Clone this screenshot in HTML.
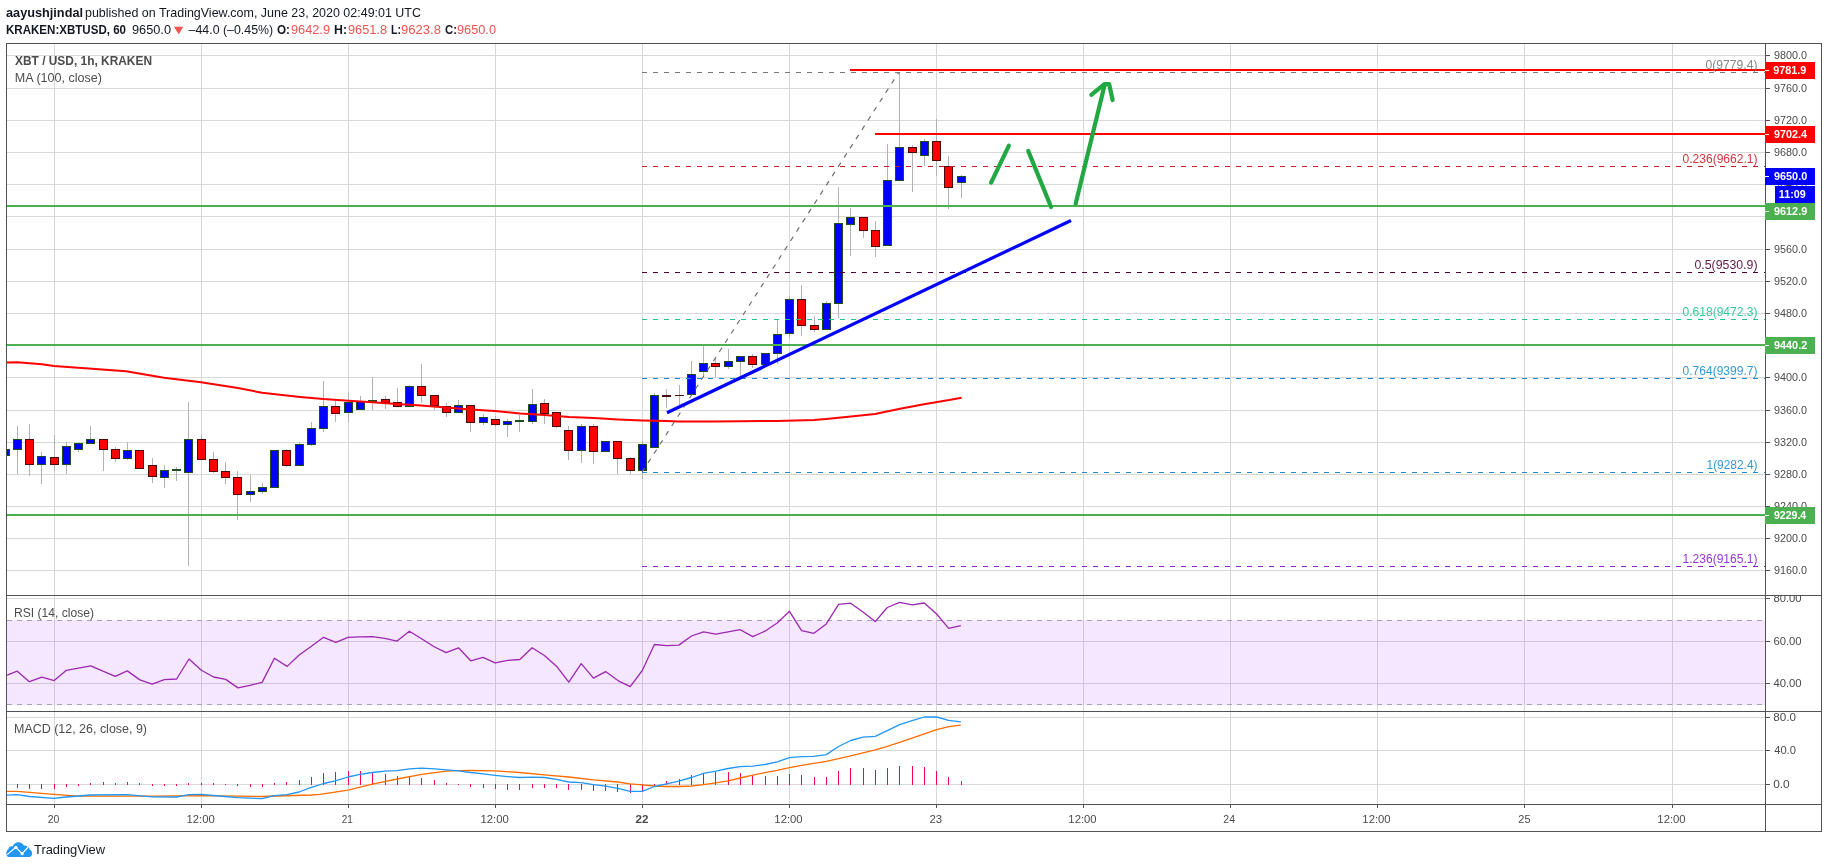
<!DOCTYPE html><html><head><meta charset="utf-8"><title>XBTUSD</title><style>html,body{margin:0;padding:0;background:#fff;overflow:hidden}svg{display:block;will-change:transform}text{font-family:"Liberation Sans",sans-serif}</style></head><body>
<svg width="1828" height="868" viewBox="0 0 1828 868">
<defs><clipPath id="cm"><rect x="7" y="44" width="1758" height="551"/></clipPath><clipPath id="cr"><rect x="7" y="596" width="1758" height="115"/></clipPath><clipPath id="cd"><rect x="7" y="712" width="1758" height="92"/></clipPath><clipPath id="cra"><rect x="1766" y="596" width="55" height="115"/></clipPath></defs>
<rect width="1828" height="868" fill="#fff"/>
<path d="M7 55.5H1765M7 88.5H1765M7 120.5H1765M7 152.5H1765M7 184.5H1765M7 216.5H1765M7 249.5H1765M7 281.5H1765M7 313.5H1765M7 345.5H1765M7 377.5H1765M7 410.5H1765M7 442.5H1765M7 474.5H1765M7 506.5H1765M7 538.5H1765M7 570.5H1765M54.5 44V595M54.5 596V711M54.5 712V804M201.5 44V595M201.5 596V711M201.5 712V804M348.5 44V595M348.5 596V711M348.5 712V804M495.5 44V595M495.5 596V711M495.5 712V804M642.5 44V595M642.5 596V711M642.5 712V804M789.5 44V595M789.5 596V711M789.5 712V804M936.5 44V595M936.5 596V711M936.5 712V804M1083.5 44V595M1083.5 596V711M1083.5 712V804M1230.5 44V595M1230.5 596V711M1230.5 712V804M1377.5 44V595M1377.5 596V711M1377.5 712V804M1524.5 44V595M1524.5 596V711M1524.5 712V804M1672.5 44V595M1672.5 596V711M1672.5 712V804M7 598.5H1765M7 641.5H1765M7 683.5H1765M7 717.5H1765M7 750.5H1765M7 784.5H1765" stroke="#d8d8d8" stroke-width="1" fill="none" shape-rendering="crispEdges"/>
<rect x="7" y="620" width="1758" height="85" fill="rgb(153,21,255)" fill-opacity="0.1" shape-rendering="crispEdges"/>
<path d="M7 620.5H1765M7 704.5H1765" stroke="#a9a0b4" stroke-width="1" stroke-dasharray="5 5" fill="none" shape-rendering="crispEdges"/>
<g clip-path="url(#cm)" shape-rendering="crispEdges">
<path d="M5.5 446V462M17.5 426V474M29.5 424V476M41.5 452V484M54.5 435V471M66.5 442V474M78.5 442V452M90.5 426V444M103.5 439V471M115.5 447V462M127.5 442V460M139.5 450V468M152.5 458V483M164.5 465V488M176.5 467V481M188.5 402V566M201.5 434V460M213.5 452V473M225.5 462V484M237.5 471V520M250.5 475V502M262.5 483V494M274.5 450V487M286.5 449V467M299.5 442V466M311.5 422V446M323.5 381V432M335.5 401V422M348.5 392V422M360.5 396V410M372.5 377V410M385.5 396V409M397.5 388V407M409.5 385V406M421.5 364V403M434.5 395V410M446.5 403V417M458.5 400V413M470.5 405V432M483.5 414V425M495.5 416V427M507.5 419V437M519.5 415V432M532.5 389V424M544.5 399V424M556.5 412V428M568.5 426V460M581.5 424V463M593.5 424V464M605.5 441V452M617.5 441V474M630.5 457V474M642.5 441V479M654.5 393V447M666.5 389V408M679.5 385V405M691.5 361V394M703.5 346V377M715.5 358V377M728.5 349V369M740.5 356V376M752.5 354V368M765.5 353V364M777.5 320V364M789.5 296V338M801.5 285V336M814.5 316V332M826.5 301V330M838.5 187V318M850.5 208V256M863.5 217V238M875.5 221V257M887.5 144V246M899.5 72V181M912.5 145V192M924.5 139V166M936.5 119V176M948.5 156V209M961.5 175V198" stroke="#b2b2b2" stroke-width="1" fill="none"/>
<rect x="1" y="449" width="9" height="7" fill="#1e4d1e"/><rect x="2" y="450" width="7" height="5" fill="#0000ff"/><rect x="13" y="439" width="9" height="11" fill="#1e4d1e"/><rect x="14" y="440" width="7" height="9" fill="#0000ff"/><rect x="25" y="439" width="9" height="26" fill="#4d0a0a"/><rect x="26" y="440" width="7" height="24" fill="#ff0000"/><rect x="37" y="456" width="9" height="9" fill="#1e4d1e"/><rect x="38" y="457" width="7" height="7" fill="#0000ff"/><rect x="50" y="457" width="9" height="8" fill="#4d0a0a"/><rect x="51" y="458" width="7" height="6" fill="#ff0000"/><rect x="62" y="446" width="9" height="19" fill="#1e4d1e"/><rect x="63" y="447" width="7" height="17" fill="#0000ff"/><rect x="74" y="443" width="9" height="7" fill="#1e4d1e"/><rect x="75" y="444" width="7" height="5" fill="#0000ff"/><rect x="86" y="439" width="9" height="5" fill="#1e4d1e"/><rect x="87" y="440" width="7" height="3" fill="#0000ff"/><rect x="99" y="439" width="9" height="11" fill="#4d0a0a"/><rect x="100" y="440" width="7" height="9" fill="#ff0000"/><rect x="111" y="449" width="9" height="10" fill="#4d0a0a"/><rect x="112" y="450" width="7" height="8" fill="#ff0000"/><rect x="123" y="450" width="9" height="9" fill="#1e4d1e"/><rect x="124" y="451" width="7" height="7" fill="#0000ff"/><rect x="135" y="450" width="9" height="19" fill="#4d0a0a"/><rect x="136" y="451" width="7" height="17" fill="#ff0000"/><rect x="148" y="465" width="9" height="12" fill="#4d0a0a"/><rect x="149" y="466" width="7" height="10" fill="#ff0000"/><rect x="160" y="470" width="9" height="8" fill="#1e4d1e"/><rect x="161" y="471" width="7" height="6" fill="#0000ff"/><rect x="172" y="469" width="9" height="2" fill="#1e4d1e"/><rect x="184" y="439" width="9" height="34" fill="#1e4d1e"/><rect x="185" y="440" width="7" height="32" fill="#0000ff"/><rect x="197" y="439" width="9" height="21" fill="#4d0a0a"/><rect x="198" y="440" width="7" height="19" fill="#ff0000"/><rect x="209" y="459" width="9" height="13" fill="#4d0a0a"/><rect x="210" y="460" width="7" height="11" fill="#ff0000"/><rect x="221" y="471" width="9" height="7" fill="#4d0a0a"/><rect x="222" y="472" width="7" height="5" fill="#ff0000"/><rect x="233" y="477" width="9" height="18" fill="#4d0a0a"/><rect x="234" y="478" width="7" height="16" fill="#ff0000"/><rect x="246" y="491" width="9" height="4" fill="#1e4d1e"/><rect x="247" y="492" width="7" height="2" fill="#0000ff"/><rect x="258" y="487" width="9" height="5" fill="#1e4d1e"/><rect x="259" y="488" width="7" height="3" fill="#0000ff"/><rect x="270" y="450" width="9" height="38" fill="#1e4d1e"/><rect x="271" y="451" width="7" height="36" fill="#0000ff"/><rect x="282" y="450" width="9" height="16" fill="#4d0a0a"/><rect x="283" y="451" width="7" height="14" fill="#ff0000"/><rect x="295" y="444" width="9" height="22" fill="#1e4d1e"/><rect x="296" y="445" width="7" height="20" fill="#0000ff"/><rect x="307" y="428" width="9" height="17" fill="#1e4d1e"/><rect x="308" y="429" width="7" height="15" fill="#0000ff"/><rect x="319" y="406" width="9" height="23" fill="#1e4d1e"/><rect x="320" y="407" width="7" height="21" fill="#0000ff"/><rect x="331" y="406" width="9" height="8" fill="#4d0a0a"/><rect x="332" y="407" width="7" height="6" fill="#ff0000"/><rect x="344" y="402" width="9" height="11" fill="#1e4d1e"/><rect x="345" y="403" width="7" height="9" fill="#0000ff"/><rect x="356" y="401" width="9" height="9" fill="#1e4d1e"/><rect x="357" y="402" width="7" height="7" fill="#0000ff"/><rect x="368" y="400" width="9" height="2" fill="#1e4d1e"/><rect x="381" y="399" width="9" height="4" fill="#4d0a0a"/><rect x="382" y="400" width="7" height="2" fill="#ff0000"/><rect x="393" y="402" width="9" height="5" fill="#4d0a0a"/><rect x="394" y="403" width="7" height="3" fill="#ff0000"/><rect x="405" y="386" width="9" height="21" fill="#1e4d1e"/><rect x="406" y="387" width="7" height="19" fill="#0000ff"/><rect x="417" y="386" width="9" height="10" fill="#4d0a0a"/><rect x="418" y="387" width="7" height="8" fill="#ff0000"/><rect x="430" y="395" width="9" height="11" fill="#4d0a0a"/><rect x="431" y="396" width="7" height="9" fill="#ff0000"/><rect x="442" y="406" width="9" height="7" fill="#4d0a0a"/><rect x="443" y="407" width="7" height="5" fill="#ff0000"/><rect x="454" y="405" width="9" height="8" fill="#1e4d1e"/><rect x="455" y="406" width="7" height="6" fill="#0000ff"/><rect x="466" y="405" width="9" height="18" fill="#4d0a0a"/><rect x="467" y="406" width="7" height="16" fill="#ff0000"/><rect x="479" y="417" width="9" height="6" fill="#1e4d1e"/><rect x="480" y="418" width="7" height="4" fill="#0000ff"/><rect x="491" y="419" width="9" height="6" fill="#4d0a0a"/><rect x="492" y="420" width="7" height="4" fill="#ff0000"/><rect x="503" y="421" width="9" height="4" fill="#1e4d1e"/><rect x="504" y="422" width="7" height="2" fill="#0000ff"/><rect x="515" y="420" width="9" height="2" fill="#1e4d1e"/><rect x="528" y="404" width="9" height="18" fill="#1e4d1e"/><rect x="529" y="405" width="7" height="16" fill="#0000ff"/><rect x="540" y="403" width="9" height="11" fill="#4d0a0a"/><rect x="541" y="404" width="7" height="9" fill="#ff0000"/><rect x="552" y="412" width="9" height="15" fill="#4d0a0a"/><rect x="553" y="413" width="7" height="13" fill="#ff0000"/><rect x="564" y="430" width="9" height="21" fill="#4d0a0a"/><rect x="565" y="431" width="7" height="19" fill="#ff0000"/><rect x="577" y="426" width="9" height="25" fill="#1e4d1e"/><rect x="578" y="427" width="7" height="23" fill="#0000ff"/><rect x="589" y="426" width="9" height="26" fill="#4d0a0a"/><rect x="590" y="427" width="7" height="24" fill="#ff0000"/><rect x="601" y="441" width="9" height="11" fill="#1e4d1e"/><rect x="602" y="442" width="7" height="9" fill="#0000ff"/><rect x="613" y="441" width="9" height="18" fill="#4d0a0a"/><rect x="614" y="442" width="7" height="16" fill="#ff0000"/><rect x="626" y="458" width="9" height="13" fill="#4d0a0a"/><rect x="627" y="459" width="7" height="11" fill="#ff0000"/><rect x="638" y="444" width="9" height="27" fill="#1e4d1e"/><rect x="639" y="445" width="7" height="25" fill="#0000ff"/><rect x="650" y="395" width="9" height="53" fill="#1e4d1e"/><rect x="651" y="396" width="7" height="51" fill="#0000ff"/><rect x="662" y="395" width="9" height="2" fill="#4d0a0a"/><rect x="675" y="395" width="9" height="1" fill="#4d0a0a"/><rect x="687" y="374" width="9" height="21" fill="#1e4d1e"/><rect x="688" y="375" width="7" height="19" fill="#0000ff"/><rect x="699" y="363" width="9" height="9" fill="#1e4d1e"/><rect x="700" y="364" width="7" height="7" fill="#0000ff"/><rect x="711" y="363" width="9" height="4" fill="#4d0a0a"/><rect x="712" y="364" width="7" height="2" fill="#ff0000"/><rect x="724" y="361" width="9" height="6" fill="#1e4d1e"/><rect x="725" y="362" width="7" height="4" fill="#0000ff"/><rect x="736" y="356" width="9" height="6" fill="#1e4d1e"/><rect x="737" y="357" width="7" height="4" fill="#0000ff"/><rect x="748" y="356" width="9" height="9" fill="#4d0a0a"/><rect x="749" y="357" width="7" height="7" fill="#ff0000"/><rect x="761" y="353" width="9" height="12" fill="#1e4d1e"/><rect x="762" y="354" width="7" height="10" fill="#0000ff"/><rect x="773" y="334" width="9" height="20" fill="#1e4d1e"/><rect x="774" y="335" width="7" height="18" fill="#0000ff"/><rect x="785" y="299" width="9" height="35" fill="#1e4d1e"/><rect x="786" y="300" width="7" height="33" fill="#0000ff"/><rect x="797" y="299" width="9" height="27" fill="#4d0a0a"/><rect x="798" y="300" width="7" height="25" fill="#ff0000"/><rect x="810" y="325" width="9" height="5" fill="#4d0a0a"/><rect x="811" y="326" width="7" height="3" fill="#ff0000"/><rect x="822" y="303" width="9" height="27" fill="#1e4d1e"/><rect x="823" y="304" width="7" height="25" fill="#0000ff"/><rect x="834" y="223" width="9" height="81" fill="#1e4d1e"/><rect x="835" y="224" width="7" height="79" fill="#0000ff"/><rect x="846" y="217" width="9" height="8" fill="#1e4d1e"/><rect x="847" y="218" width="7" height="6" fill="#0000ff"/><rect x="859" y="217" width="9" height="14" fill="#4d0a0a"/><rect x="860" y="218" width="7" height="12" fill="#ff0000"/><rect x="871" y="230" width="9" height="17" fill="#4d0a0a"/><rect x="872" y="231" width="7" height="15" fill="#ff0000"/><rect x="883" y="180" width="9" height="66" fill="#1e4d1e"/><rect x="884" y="181" width="7" height="64" fill="#0000ff"/><rect x="895" y="147" width="9" height="34" fill="#1e4d1e"/><rect x="896" y="148" width="7" height="32" fill="#0000ff"/><rect x="908" y="147" width="9" height="6" fill="#4d0a0a"/><rect x="909" y="148" width="7" height="4" fill="#ff0000"/><rect x="920" y="141" width="9" height="15" fill="#1e4d1e"/><rect x="921" y="142" width="7" height="13" fill="#0000ff"/><rect x="932" y="141" width="9" height="20" fill="#4d0a0a"/><rect x="933" y="142" width="7" height="18" fill="#ff0000"/><rect x="944" y="166" width="9" height="22" fill="#4d0a0a"/><rect x="945" y="167" width="7" height="20" fill="#ff0000"/><rect x="957" y="176" width="9" height="7" fill="#1e4d1e"/><rect x="958" y="177" width="7" height="5" fill="#0000ff"/>
</g>
<g clip-path="url(#cm)">
<polyline points="6.0,362.5 17.0,362.2 42.0,364.3 54.0,365.9 92.0,368.7 126.0,371.2 164.0,377.7 201.0,382.3 238.0,387.9 262.0,392.8 300.0,396.9 323.6,399.1 348.5,400.7 372.4,402.3 397.0,404.0 421.0,405.6 446.0,407.6 470.6,409.5 495.0,411.1 520.0,413.5 544.7,415.0 569.0,417.0 594.0,418.0 618.0,419.4 642.0,420.4 666.5,420.9 679.0,421.5 715.0,421.5 777.0,420.9 814.0,420.0 826.0,419.1 851.0,416.6 875.0,414.0 900.0,408.8 924.0,404.2 949.0,400.1 961.6,397.7" fill="none" stroke="#ff0000" stroke-width="2" stroke-linejoin="round"/>
<line x1="642" y1="472.3" x2="898.7" y2="72.5" stroke="#6a6a6a" stroke-width="1.15" stroke-dasharray="5 6"/>
<line x1="642" y1="72.5" x2="1765" y2="72.5" stroke="#787878" stroke-width="1" stroke-dasharray="5 6" shape-rendering="crispEdges"/>
<line x1="642" y1="166.5" x2="1765" y2="166.5" stroke="#cc1c24" stroke-width="1" stroke-dasharray="5 6" shape-rendering="crispEdges"/>
<line x1="642" y1="272.5" x2="1765" y2="272.5" stroke="#500032" stroke-width="1" stroke-dasharray="5 6" shape-rendering="crispEdges"/>
<line x1="642" y1="319.5" x2="1765" y2="319.5" stroke="#1ec88c" stroke-width="1" stroke-dasharray="5 6" shape-rendering="crispEdges"/>
<line x1="642" y1="378.5" x2="1765" y2="378.5" stroke="#1e8cd2" stroke-width="1" stroke-dasharray="5 6" shape-rendering="crispEdges"/>
<line x1="642" y1="472.5" x2="1765" y2="472.5" stroke="#1e8cd2" stroke-width="1" stroke-dasharray="5 6" shape-rendering="crispEdges"/>
<line x1="642" y1="566.5" x2="1765" y2="566.5" stroke="#8c1ed2" stroke-width="1" stroke-dasharray="5 6" shape-rendering="crispEdges"/>
<g shape-rendering="crispEdges">
<rect x="7" y="205" width="1758" height="2" fill="#4caf50"/>
<rect x="7" y="344" width="1758" height="2" fill="#4caf50"/>
<rect x="7" y="514" width="1758" height="2" fill="#4caf50"/>
<rect x="850" y="69" width="915" height="2" fill="#ff0000"/>
<rect x="875" y="133" width="890" height="2" fill="#ff0000"/>
</g>
<line x1="667" y1="412.8" x2="1071" y2="220.5" stroke="#0000ff" stroke-width="3.2" stroke-linecap="butt"/>
<line x1="991.1" y1="182.6" x2="1008.9" y2="145.6" stroke="#22a843" stroke-width="4.2" stroke-linecap="round" stroke-linejoin="round" fill="none"/>
<line x1="1028.2" y1="150.9" x2="1051.1" y2="207" stroke="#22a843" stroke-width="4.2" stroke-linecap="round" stroke-linejoin="round" fill="none"/>
<polyline points="1075.7,203.4 1104.8,84.2" stroke="#22a843" stroke-width="4.2" stroke-linecap="round" stroke-linejoin="round" fill="none"/>
<polyline points="1091.3,94.8 1104.4,84.2 1109.2,84.2 1112.6,100" stroke="#22a843" stroke-width="4.2" stroke-linecap="round" stroke-linejoin="round" fill="none"/>
<text x="1757.5" y="68.7" font-size="12.00" fill="#787878" text-anchor="end" textLength="52.0" lengthAdjust="spacingAndGlyphs" fill-opacity="0.9">0(9779.4)</text>
<text x="1757.5" y="163.1" font-size="12.00" fill="#cc1c24" text-anchor="end" textLength="75.0" lengthAdjust="spacingAndGlyphs" fill-opacity="0.9">0.236(9662.1)</text>
<text x="1757.5" y="269.4" font-size="12.00" fill="#500032" text-anchor="end" textLength="63.0" lengthAdjust="spacingAndGlyphs" fill-opacity="0.9">0.5(9530.9)</text>
<text x="1757.5" y="315.8" font-size="12.00" fill="#1ec88c" text-anchor="end" textLength="75.0" lengthAdjust="spacingAndGlyphs" fill-opacity="0.9">0.618(9472.3)</text>
<text x="1757.5" y="374.5" font-size="12.00" fill="#1e8cd2" text-anchor="end" textLength="75.0" lengthAdjust="spacingAndGlyphs" fill-opacity="0.9">0.764(9399.7)</text>
<text x="1757.5" y="468.7" font-size="12.00" fill="#1e8cd2" text-anchor="end" textLength="51.0" lengthAdjust="spacingAndGlyphs" fill-opacity="0.9">1(9282.4)</text>
<text x="1757.5" y="563.1" font-size="12.00" fill="#8c1ed2" text-anchor="end" textLength="75.0" lengthAdjust="spacingAndGlyphs" fill-opacity="0.9">1.236(9165.1)</text>
</g>
<text x="15.0" y="65.0" font-size="12.00" fill="#4c4c4c" font-weight="bold" textLength="137.0" lengthAdjust="spacingAndGlyphs">XBT / USD, 1h, KRAKEN</text>
<text x="14.8" y="81.6" font-size="12.00" fill="#4c4c4c" textLength="87.2" lengthAdjust="spacingAndGlyphs">MA (100, close)</text>
<g clip-path="url(#cr)">
<polyline points="7.2,675.2 17.2,671.2 29.4,681.7 41.9,677.2 54.2,680.6 66.4,670.3 78.5,668.2 90.8,665.8 102.9,671.2 115.2,676.3 127.3,670.9 139.9,679.9 152.2,684.2 164.3,679.7 176.6,679.0 189.0,659.0 201.3,670.3 213.6,677.0 225.7,679.4 238.0,687.9 250.0,685.3 262.1,682.4 274.4,658.2 287.1,666.4 299.2,655.0 311.4,646.3 323.6,637.3 335.9,642.4 348.0,637.3 360.1,636.9 372.4,636.6 384.6,638.4 397.1,641.1 409.4,631.2 421.6,638.7 433.7,646.5 446.0,652.6 458.5,647.8 470.7,660.8 483.0,657.3 495.1,662.8 507.8,660.4 519.9,659.5 532.1,647.8 544.4,655.5 556.5,666.2 568.8,682.1 581.2,663.7 593.5,678.1 605.6,671.6 617.9,680.6 630.2,686.6 642.3,670.5 654.4,644.5 666.7,645.6 678.8,645.1 691.5,636.0 703.5,631.9 715.8,634.2 728.1,631.9 740.2,629.7 752.8,636.6 764.9,631.2 777.2,623.0 789.5,611.3 801.6,630.6 813.9,633.3 826.3,623.9 838.6,604.4 850.7,603.2 863.0,612.0 875.2,621.6 887.3,607.5 899.6,602.3 912.1,604.8 924.3,603.0 936.6,614.0 948.7,628.3 960.8,625.6" fill="none" stroke="#9c27b0" stroke-width="1.3" stroke-linejoin="round"/>
</g>
<text x="14.0" y="617.0" font-size="12.00" fill="#4c4c4c" textLength="80.0" lengthAdjust="spacingAndGlyphs">RSI (14, close)</text>
<g clip-path="url(#cd)">
<g fill="#f5005a" shape-rendering="crispEdges"><rect x="17" y="784" width="1" height="4"/><rect x="29" y="784" width="1" height="5"/><rect x="41" y="784" width="1" height="5"/><rect x="54" y="784" width="1" height="5"/><rect x="66" y="784" width="1" height="3"/><rect x="78" y="784" width="1" height="2"/><rect x="90" y="783" width="1" height="2"/><rect x="103" y="782" width="1" height="3"/><rect x="115" y="783" width="1" height="2"/><rect x="127" y="782" width="1" height="3"/><rect x="139" y="783" width="1" height="2"/><rect x="152" y="784" width="1" height="2"/><rect x="164" y="784" width="1" height="2"/><rect x="176" y="784" width="1" height="2"/><rect x="188" y="783" width="1" height="2"/><rect x="201" y="783" width="1" height="2"/><rect x="213" y="783" width="1" height="2"/><rect x="225" y="784" width="1" height="1"/><rect x="237" y="784" width="1" height="2"/><rect x="250" y="784" width="1" height="3"/><rect x="262" y="784" width="1" height="3"/><rect x="274" y="783" width="1" height="2"/><rect x="286" y="782" width="1" height="3"/><rect x="299" y="780" width="1" height="5"/><rect x="311" y="777" width="1" height="8"/><rect x="323" y="773" width="1" height="12"/><rect x="335" y="772" width="1" height="13"/><rect x="348" y="771" width="1" height="14"/><rect x="360" y="771" width="1" height="14"/><rect x="372" y="772" width="1" height="13"/><rect x="385" y="774" width="1" height="11"/><rect x="397" y="776" width="1" height="9"/><rect x="409" y="777" width="1" height="8"/><rect x="421" y="778" width="1" height="7"/><rect x="434" y="780" width="1" height="5"/><rect x="446" y="783" width="1" height="2"/><rect x="458" y="784" width="1" height="1"/><rect x="470" y="784" width="1" height="3"/><rect x="483" y="784" width="1" height="4"/><rect x="495" y="784" width="1" height="5"/><rect x="507" y="784" width="1" height="6"/><rect x="519" y="784" width="1" height="6"/><rect x="532" y="784" width="1" height="4"/><rect x="544" y="784" width="1" height="4"/><rect x="556" y="784" width="1" height="4"/><rect x="568" y="784" width="1" height="6"/><rect x="581" y="784" width="1" height="6"/><rect x="593" y="784" width="1" height="7"/><rect x="605" y="784" width="1" height="7"/><rect x="617" y="784" width="1" height="8"/><rect x="630" y="784" width="1" height="9"/><rect x="642" y="784" width="1" height="7"/><rect x="654" y="784" width="1" height="2"/><rect x="666" y="781" width="1" height="4"/><rect x="679" y="779" width="1" height="6"/><rect x="691" y="775" width="1" height="10"/><rect x="703" y="773" width="1" height="12"/><rect x="715" y="772" width="1" height="13"/><rect x="728" y="772" width="1" height="13"/><rect x="740" y="773" width="1" height="12"/><rect x="752" y="775" width="1" height="10"/><rect x="765" y="776" width="1" height="9"/><rect x="777" y="776" width="1" height="9"/><rect x="789" y="774" width="1" height="11"/><rect x="801" y="775" width="1" height="10"/><rect x="814" y="777" width="1" height="8"/><rect x="826" y="777" width="1" height="8"/><rect x="838" y="771" width="1" height="14"/><rect x="850" y="768" width="1" height="17"/><rect x="863" y="768" width="1" height="17"/><rect x="875" y="770" width="1" height="15"/><rect x="887" y="768" width="1" height="17"/><rect x="899" y="766" width="1" height="19"/><rect x="912" y="766" width="1" height="19"/><rect x="924" y="767" width="1" height="18"/><rect x="936" y="771" width="1" height="14"/><rect x="948" y="777" width="1" height="8"/><rect x="961" y="781" width="1" height="4"/></g>
<polyline points="7.0,791.4 17.0,791.4 54.0,794.3 78.0,796.1 127.0,796.1 152.0,796.1 201.0,795.6 262.0,796.5 311.0,795.0 320.0,794.3 348.0,790.1 372.4,784.2 397.3,779.0 421.6,774.3 446.4,771.2 458.7,770.6 470.7,770.5 495.1,770.8 519.5,772.5 544.4,774.8 568.8,777.0 593.5,779.9 617.9,782.0 630.2,783.8 642.3,784.9 654.4,786.0 666.7,786.5 678.8,786.5 691.5,786.0 703.5,784.7 715.8,782.9 728.1,780.8 740.2,778.0 752.8,775.2 764.9,772.6 777.2,770.3 789.5,767.6 801.6,765.4 813.9,763.4 826.3,761.3 838.6,758.6 850.7,755.8 863.0,752.8 875.2,749.9 887.3,746.3 899.6,742.3 912.1,738.1 924.3,733.8 936.6,729.7 948.7,726.6 960.8,725.2" fill="none" stroke="#ff6d00" stroke-width="1.3" stroke-linejoin="round"/>
<polyline points="7.0,795.2 17.0,794.7 29.6,796.5 54.0,798.3 66.0,797.0 90.8,795.0 127.0,794.7 152.0,796.8 176.6,797.0 189.0,794.7 201.0,794.3 225.0,796.5 238.0,797.7 262.0,798.6 274.0,795.6 287.0,794.7 299.0,792.0 311.4,787.4 323.7,783.5 335.3,780.8 348.0,777.0 360.0,774.4 372.4,772.5 385.0,771.2 397.3,770.6 409.4,768.8 421.6,768.1 434.3,768.8 446.4,769.9 458.7,770.8 470.7,772.5 483.0,773.9 495.1,775.3 507.8,776.6 519.5,777.5 532.1,777.1 544.4,777.5 556.5,779.3 568.8,782.0 581.2,782.6 593.5,784.7 605.6,786.2 617.9,788.3 630.2,791.4 642.3,791.4 654.4,786.5 666.7,783.8 678.8,781.1 691.5,777.5 703.5,773.4 715.8,771.2 728.1,768.5 740.2,766.7 752.8,766.1 764.9,764.5 777.2,761.8 789.5,757.6 801.6,756.7 813.9,756.4 826.3,754.6 838.6,746.5 850.7,740.5 863.0,737.2 875.2,736.3 887.3,730.6 899.6,724.6 912.1,720.6 924.3,717.0 936.6,717.0 948.7,720.3 960.8,721.9" fill="none" stroke="#2196f3" stroke-width="1.3" stroke-linejoin="round"/>
</g>
<text x="14.0" y="732.9" font-size="12.00" fill="#4c4c4c" textLength="133.0" lengthAdjust="spacingAndGlyphs">MACD (12, 26, close, 9)</text>
<path d="M1766 55.5H1770M1766 88.5H1770M1766 120.5H1770M1766 152.5H1770M1766 184.5H1770M1766 216.5H1770M1766 249.5H1770M1766 281.5H1770M1766 313.5H1770M1766 345.5H1770M1766 377.5H1770M1766 410.5H1770M1766 442.5H1770M1766 474.5H1770M1766 506.5H1770M1766 538.5H1770M1766 570.5H1770M1766 598.5H1770M1766 641.5H1770M1766 683.5H1770M1766 717.5H1770M1766 750.5H1770M1766 784.5H1770" stroke="#525252" stroke-width="1" shape-rendering="crispEdges"/>
<text x="1774.1" y="59.2" font-size="11.00" fill="#4a4a4a" textLength="33.0" lengthAdjust="spacingAndGlyphs">9800.0</text>
<text x="1774.1" y="92.2" font-size="11.00" fill="#4a4a4a" textLength="33.0" lengthAdjust="spacingAndGlyphs">9760.0</text>
<text x="1774.1" y="124.2" font-size="11.00" fill="#4a4a4a" textLength="33.0" lengthAdjust="spacingAndGlyphs">9720.0</text>
<text x="1774.1" y="156.2" font-size="11.00" fill="#4a4a4a" textLength="33.0" lengthAdjust="spacingAndGlyphs">9680.0</text>
<text x="1774.1" y="188.2" font-size="11.00" fill="#4a4a4a" textLength="33.0" lengthAdjust="spacingAndGlyphs">9640.0</text>
<text x="1774.1" y="220.2" font-size="11.00" fill="#4a4a4a" textLength="33.0" lengthAdjust="spacingAndGlyphs">9600.0</text>
<text x="1774.1" y="253.2" font-size="11.00" fill="#4a4a4a" textLength="33.0" lengthAdjust="spacingAndGlyphs">9560.0</text>
<text x="1774.1" y="285.2" font-size="11.00" fill="#4a4a4a" textLength="33.0" lengthAdjust="spacingAndGlyphs">9520.0</text>
<text x="1774.1" y="317.2" font-size="11.00" fill="#4a4a4a" textLength="33.0" lengthAdjust="spacingAndGlyphs">9480.0</text>
<text x="1774.1" y="349.2" font-size="11.00" fill="#4a4a4a" textLength="33.0" lengthAdjust="spacingAndGlyphs">9440.0</text>
<text x="1774.1" y="381.2" font-size="11.00" fill="#4a4a4a" textLength="33.0" lengthAdjust="spacingAndGlyphs">9400.0</text>
<text x="1774.1" y="414.2" font-size="11.00" fill="#4a4a4a" textLength="33.0" lengthAdjust="spacingAndGlyphs">9360.0</text>
<text x="1774.1" y="446.2" font-size="11.00" fill="#4a4a4a" textLength="33.0" lengthAdjust="spacingAndGlyphs">9320.0</text>
<text x="1774.1" y="478.2" font-size="11.00" fill="#4a4a4a" textLength="33.0" lengthAdjust="spacingAndGlyphs">9280.0</text>
<text x="1774.1" y="510.2" font-size="11.00" fill="#4a4a4a" textLength="33.0" lengthAdjust="spacingAndGlyphs">9240.0</text>
<text x="1774.1" y="542.2" font-size="11.00" fill="#4a4a4a" textLength="33.0" lengthAdjust="spacingAndGlyphs">9200.0</text>
<text x="1774.1" y="574.2" font-size="11.00" fill="#4a4a4a" textLength="33.0" lengthAdjust="spacingAndGlyphs">9160.0</text>
<g clip-path="url(#cra)">
<text x="1773.4" y="602.2" font-size="11.00" fill="#4a4a4a" textLength="28.2" lengthAdjust="spacingAndGlyphs">80.00</text>
<text x="1773.4" y="645.2" font-size="11.00" fill="#4a4a4a" textLength="28.2" lengthAdjust="spacingAndGlyphs">60.00</text>
<text x="1773.4" y="687.2" font-size="11.00" fill="#4a4a4a" textLength="28.2" lengthAdjust="spacingAndGlyphs">40.00</text>
</g>
<text x="1773.2" y="721.2" font-size="11.00" fill="#4a4a4a" textLength="22.7" lengthAdjust="spacingAndGlyphs">80.0</text>
<text x="1774.2" y="754.2" font-size="11.00" fill="#4a4a4a" textLength="21.7" lengthAdjust="spacingAndGlyphs">40.0</text>
<text x="1773.2" y="788.2" font-size="11.00" fill="#4a4a4a" textLength="16.5" lengthAdjust="spacingAndGlyphs">0.0</text>
<text x="53.6" y="823.0" font-size="11.00" fill="#4a4a4a" text-anchor="middle" textLength="11.6" lengthAdjust="spacingAndGlyphs">20</text>
<text x="200.6" y="823.0" font-size="11.00" fill="#4a4a4a" text-anchor="middle" textLength="28.3" lengthAdjust="spacingAndGlyphs">12:00</text>
<text x="347.2" y="823.0" font-size="11.00" fill="#4a4a4a" text-anchor="middle" textLength="11.1" lengthAdjust="spacingAndGlyphs">21</text>
<text x="494.6" y="823.0" font-size="11.00" fill="#4a4a4a" text-anchor="middle" textLength="28.3" lengthAdjust="spacingAndGlyphs">12:00</text>
<text x="642.0" y="823.0" font-size="11.00" fill="#4a4a4a" font-weight="bold" text-anchor="middle" textLength="12.9" lengthAdjust="spacingAndGlyphs">22</text>
<text x="788.5" y="823.0" font-size="11.00" fill="#4a4a4a" text-anchor="middle" textLength="28.3" lengthAdjust="spacingAndGlyphs">12:00</text>
<text x="935.8" y="823.0" font-size="11.00" fill="#4a4a4a" text-anchor="middle" textLength="12.7" lengthAdjust="spacingAndGlyphs">23</text>
<text x="1082.5" y="823.0" font-size="11.00" fill="#4a4a4a" text-anchor="middle" textLength="28.3" lengthAdjust="spacingAndGlyphs">12:00</text>
<text x="1229.2" y="823.0" font-size="11.00" fill="#4a4a4a" text-anchor="middle" textLength="11.7" lengthAdjust="spacingAndGlyphs">24</text>
<text x="1376.5" y="823.0" font-size="11.00" fill="#4a4a4a" text-anchor="middle" textLength="28.3" lengthAdjust="spacingAndGlyphs">12:00</text>
<text x="1524.5" y="823.0" font-size="11.00" fill="#4a4a4a" text-anchor="middle" textLength="12.3" lengthAdjust="spacingAndGlyphs">25</text>
<text x="1671.5" y="823.0" font-size="11.00" fill="#4a4a4a" text-anchor="middle" textLength="28.3" lengthAdjust="spacingAndGlyphs">12:00</text>
<path d="M54.5 805V808M201.5 805V808M348.5 805V808M495.5 805V808M642.5 805V808M789.5 805V808M936.5 805V808M1083.5 805V808M1230.5 805V808M1377.5 805V808M1524.5 805V808M1672.5 805V808" stroke="#525252" stroke-width="1" shape-rendering="crispEdges"/>
<path d="M6.5 43V832M1821.5 43V832M1765.5 43V832M6 43.5H1822M6 831.5H1822M6 595.5H1822M6 711.5H1822M6 804.5H1822" stroke="#525252" stroke-width="1" fill="none" shape-rendering="crispEdges"/>
<rect x="1765" y="62" width="50" height="17" fill="#ff0000" shape-rendering="crispEdges"/>
<rect x="1765" y="70" width="4" height="1" fill="#fff" shape-rendering="crispEdges"/>
<text x="1773.2" y="74.3" font-size="11.00" fill="#fff" font-weight="bold" textLength="33.1" lengthAdjust="spacingAndGlyphs">9781.9</text>
<rect x="1765" y="126" width="50" height="17" fill="#ff0000" shape-rendering="crispEdges"/>
<rect x="1765" y="134" width="4" height="1" fill="#fff" shape-rendering="crispEdges"/>
<text x="1774.0" y="138.3" font-size="11.00" fill="#fff" font-weight="bold" textLength="33.0" lengthAdjust="spacingAndGlyphs">9702.4</text>
<rect x="1765" y="168" width="50" height="17" fill="#0000ff" shape-rendering="crispEdges"/>
<rect x="1765" y="176" width="4" height="1" fill="#fff" shape-rendering="crispEdges"/>
<text x="1774.0" y="180.3" font-size="11.00" fill="#fff" font-weight="bold" textLength="33.2" lengthAdjust="spacingAndGlyphs">9650.0</text>
<rect x="1765" y="203" width="50" height="17" fill="#4caf50" shape-rendering="crispEdges"/>
<rect x="1765" y="211" width="4" height="1" fill="#fff" shape-rendering="crispEdges"/>
<text x="1774.0" y="215.3" font-size="11.00" fill="#fff" font-weight="bold" textLength="33.2" lengthAdjust="spacingAndGlyphs">9612.9</text>
<rect x="1765" y="337" width="50" height="17" fill="#4caf50" shape-rendering="crispEdges"/>
<rect x="1765" y="345" width="4" height="1" fill="#fff" shape-rendering="crispEdges"/>
<text x="1774.0" y="349.3" font-size="11.00" fill="#fff" font-weight="bold" textLength="33.2" lengthAdjust="spacingAndGlyphs">9440.2</text>
<rect x="1765" y="507" width="50" height="17" fill="#4caf50" shape-rendering="crispEdges"/>
<rect x="1765" y="515" width="4" height="1" fill="#fff" shape-rendering="crispEdges"/>
<text x="1774.0" y="519.3" font-size="11.00" fill="#fff" font-weight="bold" textLength="32.2" lengthAdjust="spacingAndGlyphs">9229.4</text>
<rect x="1775" y="186" width="40" height="17" fill="#0000ff" shape-rendering="crispEdges"/>
<text x="1778.8" y="197.6" font-size="11.00" fill="#fff" font-weight="bold" textLength="27.0" lengthAdjust="spacingAndGlyphs">11:09</text>
<text x="6.0" y="16.7" font-size="13.00" fill="#131722" font-weight="bold" textLength="77.0" lengthAdjust="spacingAndGlyphs">aayushjindal</text>
<text x="85.0" y="16.7" font-size="13.00" fill="#131722" textLength="336.0" lengthAdjust="spacingAndGlyphs">published on TradingView.com, June 23, 2020 02:49:01 UTC</text>
<text x="6.0" y="33.5" font-size="12.00" fill="#131722" font-weight="bold" textLength="120.0" lengthAdjust="spacingAndGlyphs">KRAKEN:XBTUSD, 60</text>
<text x="132.0" y="33.5" font-size="12.50" fill="#131722" textLength="39.0" lengthAdjust="spacingAndGlyphs">9650.0</text>
<polygon points="174,26.7 183.3,26.7 178.65,34.2" fill="#ef5350"/>
<text x="188.6" y="33.5" font-size="12.50" fill="#131722" textLength="84.6" lengthAdjust="spacingAndGlyphs">–44.0 (–0.45%)</text>
<text x="277.0" y="33.5" font-size="12.50" fill="#131722" font-weight="bold" textLength="13.0" lengthAdjust="spacingAndGlyphs">O:</text>
<text x="291.0" y="33.5" font-size="12.50" fill="#ef5350" textLength="39.0" lengthAdjust="spacingAndGlyphs">9642.9</text>
<text x="334.0" y="33.5" font-size="12.50" fill="#131722" font-weight="bold" textLength="13.0" lengthAdjust="spacingAndGlyphs">H:</text>
<text x="348.0" y="33.5" font-size="12.50" fill="#ef5350" textLength="39.0" lengthAdjust="spacingAndGlyphs">9651.8</text>
<text x="391.0" y="33.5" font-size="12.50" fill="#131722" font-weight="bold" textLength="10.0" lengthAdjust="spacingAndGlyphs">L:</text>
<text x="401.0" y="33.5" font-size="12.50" fill="#ef5350" textLength="40.0" lengthAdjust="spacingAndGlyphs">9623.8</text>
<text x="445.0" y="33.5" font-size="12.50" fill="#131722" font-weight="bold" textLength="12.0" lengthAdjust="spacingAndGlyphs">C:</text>
<text x="457.0" y="33.5" font-size="12.50" fill="#ef5350" textLength="39.0" lengthAdjust="spacingAndGlyphs">9650.0</text>
<g>
<path d="M9 857 C5.5 857 5.5 850.5 8.5 849 C9 846.5 11 846 13 846.5 C13.5 842 21 840.5 23.5 845 C24.5 846 26 845.5 27.5 846.5 C29 847 29.5 848.5 29.5 849.5 C33 850.5 33 857 29 857 Z" fill="#2196f3"/>
<polyline points="7.2,854.6 15.8,847.3 22.1,853.7 28.2,847" fill="none" stroke="#fff" stroke-width="1.2"/>
<circle cx="15.8" cy="847.3" r="1.6" fill="#fff"/><circle cx="22.1" cy="853.7" r="1.6" fill="#fff"/>
</g>
<text x="34.0" y="854.0" font-size="12.70" fill="#131722" textLength="71.0" lengthAdjust="spacingAndGlyphs">TradingView</text>
</svg></body></html>
